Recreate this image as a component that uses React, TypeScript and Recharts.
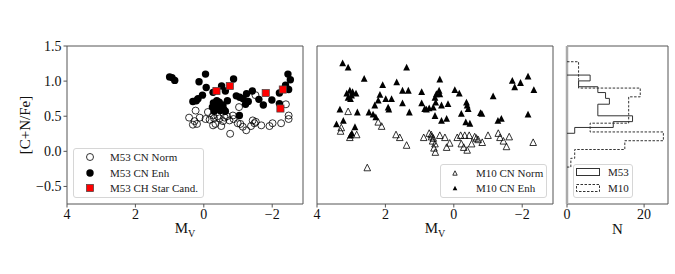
import {
  ScatterChart,
  Scatter,
  XAxis,
  YAxis,
  ReferenceArea,
  ReferenceLine,
} from "recharts";

// M53 points: [M_V, [C+N/Fe]]
const m53Norm: [number, number][] = [
  [0.43, 0.48], [0.24, 0.58], [0.27, 0.43], [0.2, 0.39], [0.12, 0.48],
  [0.32, 0.38], [-0.05, 0.46], [-0.17, 0.45], [-0.12, 0.56], [-0.27, 0.51],
  [-0.3, 0.47], [-0.27, 0.37], [-0.34, 0.39], [-0.4, 0.5], [-0.46, 0.47],
  [-0.51, 0.36], [-0.56, 0.43], [-0.61, 0.48], [-0.68, 0.5], [-0.75, 0.44],
  [-0.77, 0.25], [-0.87, 0.46], [-0.85, 0.51], [-0.99, 0.4], [-1.03, 0.63],
  [-1.07, 0.39], [-1.14, 0.35], [-1.24, 0.3], [-1.38, 0.36], [-1.43, 0.44],
  [-1.48, 0.4], [-1.52, 0.42], [-1.51, 0.8], [-1.68, 0.37], [-1.92, 0.36],
  [-2.01, 0.4], [-2.26, 0.4], [-2.4, 0.67], [-2.48, 0.51], [-2.48, 0.46],
];

const m53Enh: [number, number][] = [
  [1.0, 1.06], [0.93, 1.05], [0.85, 1.01], [0.14, 0.99], [-0.05, 1.1],
  [-0.07, 0.91], [0.04, 0.8], [0.17, 0.75], [0.22, 0.72], [0.32, 0.71],
  [-0.27, 0.84], [-0.52, 0.93], [-0.63, 0.86], [-0.87, 1.03], [-0.69, 0.72],
  [-0.28, 0.69], [-0.36, 0.66], [-0.45, 0.7], [-0.32, 0.62], [-0.42, 0.61],
  [-0.3, 0.57], [-0.52, 0.63], [-0.38, 0.72], [-0.48, 0.58], [-0.56, 0.66],
  [-0.25, 0.63], [-0.63, 0.57], [-0.58, 0.6], [-1.04, 0.51], [-0.95, 0.79],
  [-1.05, 0.77], [-1.15, 0.75], [-1.25, 0.82], [-1.22, 0.67], [-1.3, 0.71],
  [-1.42, 0.86], [-1.61, 0.74], [-1.74, 0.66], [-1.99, 0.73], [-2.21, 0.83],
  [-2.21, 0.68], [-2.39, 0.94], [-2.46, 1.1], [-2.53, 1.02], [-2.48, 0.88],
];

const m53CH: [number, number][] = [
  [-0.37, 0.86], [-0.76, 0.93], [-1.81, 0.83], [-2.31, 0.88], [-2.24, 0.61],
];

// M10 points
const m10Norm: [number, number][] = [
  [3.31, 0.29], [3.29, 0.34], [3.09, 0.57], [3.04, 0.2], [2.84, 0.24],
  [2.53, -0.23], [2.21, 0.42], [2.11, 0.36], [1.69, 0.24], [1.58, 0.2],
  [1.38, 0.09], [0.88, 0.2], [0.72, 0.26], [0.65, 0.21], [0.62, 0.15],
  [0.55, 0.11], [0.58, 0.05], [0.54, -0.01], [0.6, 0.19], [0.41, 0.23],
  [0.26, 0.2], [0.21, 0.06], [0.12, 0.12], [-0.2, 0.23], [-0.32, 0.23],
  [-0.45, 0.23], [-0.22, 0.11], [-0.29, 0.06], [-0.39, 0.02], [-0.52, 0.11],
  [-0.61, 0.21], [-0.66, 0.19], [-0.71, 0.17], [-0.83, 0.13], [-1.0, 0.23],
  [-1.3, 0.26], [-1.35, 0.2], [-1.45, 0.15], [-1.62, 0.21], [-1.54, 0.07],
  [-2.32, 0.13], [0.66, 0.24], [-0.1, 0.2],
];

const m10Enh: [number, number][] = [
  [3.25, 1.26], [3.09, 1.2], [1.38, 1.2], [2.62, 1.04], [2.08, 0.95],
  [1.67, 0.99], [0.41, 1.03], [3.13, 0.83], [3.04, 0.87], [2.96, 0.85],
  [2.86, 0.83], [3.09, 0.77], [3.02, 0.75], [2.99, 0.8], [1.5, 0.87],
  [1.33, 0.87], [2.16, 0.81], [2.21, 0.73], [1.99, 0.75], [1.82, 0.75],
  [1.5, 0.69], [2.31, 0.66], [1.9, 0.6], [1.92, 0.63], [1.3, 0.56],
  [2.48, 0.56], [2.82, 0.56], [3.33, 0.6], [2.36, 0.53], [2.28, 0.49],
  [3.23, 0.44], [3.43, 0.39], [2.89, 0.35], [3.02, 0.23], [2.98, 0.26],
  [0.94, 0.85], [0.94, 0.69], [0.85, 0.61], [0.8, 0.6], [0.72, 0.62],
  [0.43, 0.87], [0.51, 0.82], [0.55, 0.77], [0.41, 0.82], [0.53, 0.7],
  [0.36, 0.66], [0.6, 0.63], [0.55, 0.51], [0.36, 0.44], [0.21, 0.47],
  [0.17, 0.68], [-0.03, 0.88], [-0.16, 0.83], [-0.22, 0.54], [-0.37, 0.7],
  [-0.39, 0.66], [-0.42, 0.61], [-0.35, 0.42], [-0.47, 0.4], [-0.78, 0.55],
  [-0.82, 0.54], [-1.15, 0.79], [-1.29, 0.44], [-1.39, 0.47], [-1.71, 1.01],
  [-1.78, 0.92], [-1.95, 0.98], [-2.17, 1.07], [-2.34, 0.88], [-2.17, 0.53],
];

// histograms: bin edges (top -> bottom) and counts
const m53Edges = [1.086, 1.003, 0.92, 0.837, 0.754, 0.671, 0.588, 0.506, 0.423, 0.34, 0.257];
const m53Counts = [6, 3, 8, 10, 11, 8, 8, 17, 12, 2];
const m10Edges = [1.276, 1.151, 1.026, 0.901, 0.776, 0.651, 0.526, 0.401, 0.276, 0.151, 0.026, -0.099, -0.224];
const m10Counts = [3, 3, 3, 19, 16, 16, 16, 6, 25, 15, 2, 1];

const mvTicks = [4, 2, 0, -2];
const yTicks = [-0.5, 0, 0.5, 1, 1.5];
const nTicks = [0, 20];

const MV_DOMAIN: [number, number] = [-2.9, 4];
const Y_DOMAIN: [number, number] = [-0.75, 1.5];
const N_DOMAIN: [number, number] = [0, 26.2];

const FONT = "'Liberation Serif', 'Times New Roman', serif";
const SPINE = "#555";

const toPts = (arr: [number, number][]) => arr.map(([x, y]) => ({ x, y }));

function stepPoints(edges: number[], counts: number[]) {
  const pts = [{ x: 0, y: edges[0] }];
  counts.forEach((c, i) => {
    pts.push({ x: c, y: edges[i] });
    pts.push({ x: c, y: edges[i + 1] });
  });
  pts.push({ x: 0, y: edges[edges.length - 1] });
  return pts;
}

const minus = (s: string) => s.replace("-", "\u2212");
const fmtMv = (v: number) => minus(`${v}`);
const fmtY = (v: number) => minus(v.toFixed(1));

const tickStyle = { fontSize: 14, fontFamily: FONT, fill: "#111" };

const OpenCircle = (p: any) => (
  <circle cx={p.cx} cy={p.cy} r={3.5} fill="none" stroke="#000" strokeWidth={0.8} />
);
const FilledCircle = (p: any) => <circle cx={p.cx} cy={p.cy} r={3.7} fill="#000" />;
const RedSquare = (p: any) => (
  <rect x={p.cx - 3.6} y={p.cy - 3.6} width={7.2} height={7.2} fill="#ff0000" stroke="#444" strokeWidth={0.7} />
);
const triPath = (cx: number, cy: number, s: number) =>
  `M${cx},${cy - s / 2} L${cx + s / 2},${cy + s / 2} L${cx - s / 2},${cy + s / 2} Z`;
const OpenTri = (p: any) => (
  <path d={triPath(p.cx, p.cy, 6.6)} fill="none" stroke="#000" strokeWidth={0.8} />
);
const FilledTri = (p: any) => <path d={triPath(p.cx, p.cy, 6.8)} fill="#000" />;
const NoShape = () => <g />;

const MvLabel = (props: any) => {
  const vb = props.viewBox;
  return (
    <text x={vb.x + vb.width / 2} y={vb.y + 29} textAnchor="middle" fontFamily={FONT} fontSize={15} fill="#111">
      M
      <tspan fontSize={10} dy={4}>V</tspan>
    </text>
  );
};

const NLabel = (props: any) => {
  const vb = props.viewBox;
  return (
    <text x={vb.x + vb.width / 2} y={vb.y + 30} textAnchor="middle" fontFamily={FONT} fontSize={15} fill="#111">
      N
    </text>
  );
};

const YLabel = (props: any) => {
  const vb = props.viewBox;
  return (
    <text
      transform={`translate(30,${vb.y + vb.height / 2}) rotate(-90)`}
      textAnchor="middle"
      fontFamily={FONT}
      fontSize={15}
      fill="#111"
    >
      [C+N/Fe]
    </text>
  );
};

const legendBox = (left: number, top: number, width: number, height: number): React.CSSProperties => ({
  position: "absolute",
  left,
  top,
  width,
  height,
  border: "1px solid #d6d6d6",
  borderRadius: 3,
  background: "rgba(255,255,255,0.85)",
  boxSizing: "border-box",
});

function LegendRow({ x, y, textX, icon, label }: { x: number; y: number; textX: number; icon: React.ReactNode; label: string }) {
  return (
    <>
      <svg style={{ position: "absolute", left: x - 12, top: y - 7 }} width={24} height={14}>
        {icon}
      </svg>
      <div
        style={{
          position: "absolute",
          left: textX,
          top: y - 7,
          height: 14,
          lineHeight: "14px",
          fontFamily: FONT,
          fontSize: 11,
          color: "#222",
          whiteSpace: "nowrap",
        }}
      >
        {label}
      </div>
    </>
  );
}

export default function App() {
  return (
    <div style={{ position: "absolute", left: 0, top: 0, width: 675, height: 274, background: "#fff" }}>
      {/* M53 panel */}
      <div style={{ position: "absolute", left: 0, top: 0 }}>
        <ScatterChart width={310} height={274} margin={{ top: 46, right: 7, bottom: 40, left: 0 }}>
          <XAxis
            type="number"
            dataKey="x"
            domain={MV_DOMAIN}
            reversed
            ticks={mvTicks}
            tickFormatter={fmtMv}
            tick={tickStyle}
            tickSize={3.5}
            tickLine={{ stroke: SPINE }}
            axisLine={false}
            height={30}
            allowDataOverflow
            label={<MvLabel />}
          />
          <YAxis
            type="number"
            dataKey="y"
            domain={Y_DOMAIN}
            ticks={yTicks}
            tickFormatter={fmtY}
            tick={tickStyle}
            tickSize={3.5}
            tickLine={{ stroke: SPINE }}
            axisLine={false}
            width={67}
            allowDataOverflow
            label={<YLabel />}
          />
          <Scatter data={toPts(m53Norm)} shape={OpenCircle} isAnimationActive={false} />
          <Scatter data={toPts(m53Enh)} shape={FilledCircle} isAnimationActive={false} />
          <Scatter data={toPts(m53CH)} shape={RedSquare} isAnimationActive={false} />
          <ReferenceArea x1={MV_DOMAIN[0]} x2={MV_DOMAIN[1]} y1={Y_DOMAIN[0]} y2={Y_DOMAIN[1]} fill="none" stroke={SPINE} strokeWidth={1} />
        </ScatterChart>
      </div>

      {/* M10 panel */}
      <div style={{ position: "absolute", left: 310, top: 0 }}>
        <ScatterChart width={250} height={274} margin={{ top: 46, right: 7, bottom: 40, left: 0 }}>
          <XAxis
            type="number"
            dataKey="x"
            domain={MV_DOMAIN}
            reversed
            ticks={mvTicks}
            tickFormatter={fmtMv}
            tick={tickStyle}
            tickSize={3.5}
            tickLine={{ stroke: SPINE }}
            axisLine={false}
            height={30}
            allowDataOverflow
            label={<MvLabel />}
          />
          <YAxis
            type="number"
            dataKey="y"
            domain={Y_DOMAIN}
            ticks={yTicks}
            tick={false}
            tickSize={3.5}
            tickLine={{ stroke: SPINE }}
            axisLine={false}
            width={7}
            allowDataOverflow
          />
          <Scatter data={toPts(m10Norm)} shape={OpenTri} isAnimationActive={false} />
          <Scatter data={toPts(m10Enh)} shape={FilledTri} isAnimationActive={false} />
          <ReferenceArea x1={MV_DOMAIN[0]} x2={MV_DOMAIN[1]} y1={Y_DOMAIN[0]} y2={Y_DOMAIN[1]} fill="none" stroke={SPINE} strokeWidth={1} />
        </ScatterChart>
      </div>

      {/* histogram panel */}
      <div style={{ position: "absolute", left: 560, top: 0 }}>
        <ScatterChart width={115} height={274} margin={{ top: 46, right: 7, bottom: 40, left: 0 }}>
          <XAxis
            type="number"
            dataKey="x"
            domain={N_DOMAIN}
            ticks={nTicks}
            tick={tickStyle}
            tickSize={3.5}
            tickLine={{ stroke: SPINE }}
            axisLine={false}
            height={30}
            allowDataOverflow
            label={<NLabel />}
          />
          <YAxis
            type="number"
            dataKey="y"
            domain={Y_DOMAIN}
            ticks={yTicks}
            tick={false}
            tickSize={3.5}
            tickLine={{ stroke: SPINE }}
            axisLine={false}
            width={7}
            allowDataOverflow
          />
          <ReferenceLine x={0} stroke="#aaa" strokeWidth={2.5} />
          <Scatter
            data={stepPoints(m53Edges, m53Counts)}
            line={{ stroke: "#333", strokeWidth: 1 }}
            lineType="joint"
            shape={NoShape}
            isAnimationActive={false}
          />
          <Scatter
            data={stepPoints(m10Edges, m10Counts)}
            line={{ stroke: "#333", strokeWidth: 1, strokeDasharray: "2.5 1.5" }}
            lineType="joint"
            shape={NoShape}
            isAnimationActive={false}
          />
          <ReferenceArea x1={N_DOMAIN[0]} x2={N_DOMAIN[1]} y1={Y_DOMAIN[0]} y2={Y_DOMAIN[1]} fill="none" stroke={SPINE} strokeWidth={1} />
        </ScatterChart>
      </div>

      {/* legends */}
      <div style={legendBox(73, 148, 131, 50)} />
      <LegendRow x={90} y={157} textX={110} label="M53 CN Norm"
        icon={<circle cx={12} cy={7} r={3.5} fill="none" stroke="#000" strokeWidth={0.8} />} />
      <LegendRow x={90} y={172.7} textX={110} label="M53 CN Enh"
        icon={<circle cx={12} cy={7} r={3.7} fill="#000" />} />
      <LegendRow x={90} y={188.3} textX={110} label="M53 CH Star Cand."
        icon={<rect x={8.4} y={3.4} width={7.2} height={7.2} fill="#ff0000" stroke="#444" strokeWidth={0.7} />} />

      <div style={legendBox(440, 164, 107, 34)} />
      <LegendRow x={455} y={173.3} textX={476} label="M10 CN Norm"
        icon={<path d={triPath(12, 7, 4.4)} fill="none" stroke="#000" strokeWidth={0.8} />} />
      <LegendRow x={455} y={188.3} textX={476} label="M10 CN Enh"
        icon={<path d={triPath(12, 7, 4.6)} fill="#000" />} />

      <div style={legendBox(573, 164, 60, 34)} />
      <LegendRow x={588} y={172.3} textX={608} label="M53"
        icon={<rect x={0.5} y={3.5} width={23} height={7} fill="none" stroke="#333" strokeWidth={1} />} />
      <LegendRow x={588} y={188.3} textX={608} label="M10"
        icon={<rect x={0.5} y={3.5} width={23} height={7} fill="none" stroke="#333" strokeWidth={1} strokeDasharray="2.5 1.5" />} />
    </div>
  );
}
